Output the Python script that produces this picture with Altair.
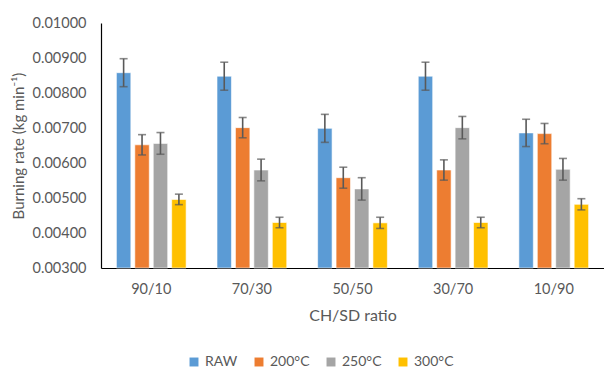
import altair as alt
import pandas as pd

# Burning rate per CH/SD blend and torrefaction treatment
ratios = ["90/10", "70/30", "50/50", "30/70", "10/90"]
treatments = ["RAW", "200°C", "250°C", "300°C"]
colors = ["#5B9BD5", "#ED7D31", "#A5A5A5", "#FFC000"]

raw_rate = [0.00858, 0.00848, 0.00699, 0.00848, 0.00686]
t200_rate = [0.00652, 0.00701, 0.00558, 0.00580, 0.00684]
t250_rate = [0.00656, 0.00580, 0.00526, 0.00701, 0.00582]
t300_rate = [0.00496, 0.00430, 0.00429, 0.00430, 0.00482]

raw_err = [0.00040, 0.00040, 0.00040, 0.00040, 0.00039]
t200_err = [0.00029, 0.00029, 0.00030, 0.00029, 0.00029]
t250_err = [0.00031, 0.00031, 0.00032, 0.00032, 0.00031]
t300_err = [0.00015, 0.00015, 0.00016, 0.00015, 0.00016]

y_ticks = [0.003, 0.004, 0.005, 0.006, 0.007, 0.008, 0.009, 0.010]

rows = []
for t, vals, errs in zip(treatments,
                         [raw_rate, t200_rate, t250_rate, t300_rate],
                         [raw_err, t200_err, t250_err, t300_err]):
    for r, v, e in zip(ratios, vals, errs):
        rows.append({"ratio": r, "treatment": t, "rate": v,
                     "lo": v - e, "hi": v + e})
df = pd.DataFrame(rows)

FONT = "Lato"
TXT = "#595959"

x_axis = alt.Axis(title="CH/SD ratio", labelAngle=0, ticks=False,
                  domainColor="#000000", domainWidth=1.2,
                  labelFontSize=14.5, titleFontSize=16,
                  labelPadding=14, titlePadding=12)
y_axis = alt.Axis(title="Burning rate (kg min⁻¹)", values=y_ticks,
                  format=".5f", grid=False, ticks=False,
                  labelOverlap=False, labelFontSize=14.5,
                  titleFontSize=15,
                  domainColor="#000000", domainWidth=1.2,
                  labelPadding=15, titlePadding=6)

x_enc = alt.X("ratio:N", sort=ratios,
              scale=alt.Scale(paddingInner=0.307, paddingOuter=0.153),
              axis=x_axis)
xoff = alt.XOffset("treatment:N", sort=treatments,
                   scale=alt.Scale(paddingInner=0.216, paddingOuter=0))
y_scale = alt.Scale(domain=[0.003, 0.010], zero=False, nice=False)

bars = alt.Chart(df).mark_bar(stroke="white", strokeWidth=0.6).encode(
    x=x_enc,
    xOffset=xoff,
    y=alt.Y("rate:Q", scale=y_scale, axis=y_axis),
    y2=alt.datum(0.003),
    color=alt.Color("treatment:N", sort=treatments,
                    scale=alt.Scale(domain=treatments, range=colors),
                    legend=alt.Legend(title=None, orient="none",
                                      direction="horizontal",
                                      legendX=86, legendY=332,
                                      symbolType="square", symbolSize=80,
                                      symbolStrokeWidth=0,
                                      labelOffset=4, columnPadding=14)),
)

whisker = alt.Chart(df).mark_rule(color="#595959", strokeWidth=1.6).encode(
    x=x_enc,
    xOffset=xoff,
    y=alt.Y("lo:Q", scale=y_scale, axis=y_axis),
    y2="hi:Q",
)

cap_lo = alt.Chart(df).mark_tick(color="#595959", thickness=1.6, size=8).encode(
    x=x_enc,
    xOffset=xoff,
    y=alt.Y("lo:Q", scale=y_scale, axis=y_axis),
)
cap_hi = alt.Chart(df).mark_tick(color="#595959", thickness=1.6, size=8).encode(
    x=x_enc,
    xOffset=xoff,
    y=alt.Y("hi:Q", scale=y_scale, axis=y_axis),
)

chart = alt.layer(bars, whisker, cap_lo, cap_hi).properties(
    width=503, height=245,
    autosize=alt.AutoSizeParams(type="none"),
    padding={"left": 101, "top": 23, "right": 0, "bottom": 101},
    background="white",
).configure_view(stroke=None).configure_axis(
    labelFont=FONT, labelColor=TXT,
    titleFont=FONT, titleColor=TXT, titleFontWeight="normal",
).configure_axisY(labelOverlap=False).configure_legend(
    labelFont=FONT, labelFontSize=14, labelColor=TXT,
)

chart.save("out.html", embed_options={"renderer": "svg", "actions": False})
